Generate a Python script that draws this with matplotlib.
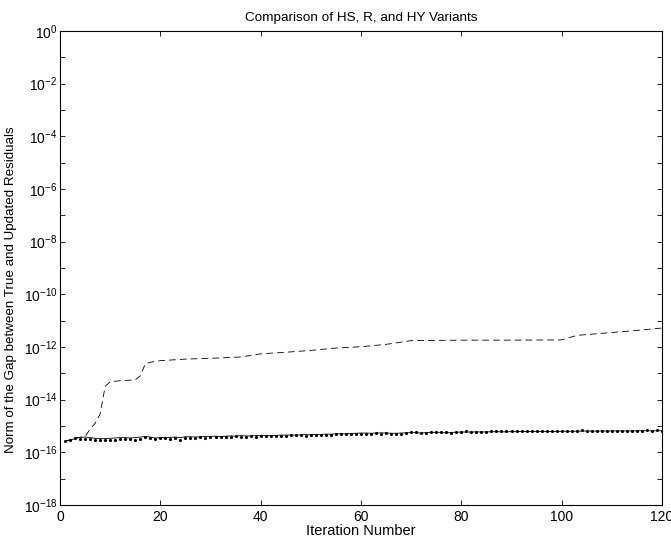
import numpy as np
import matplotlib
matplotlib.use('Agg')
import matplotlib.pyplot as plt

plt.rcParams['font.family'] = ['Liberation Sans', 'DejaVu Sans']
plt.rcParams['mathtext.fontset'] = 'custom'
plt.rcParams['mathtext.rm'] = 'Liberation Sans'
plt.rcParams['mathtext.it'] = 'Liberation Sans:italic'

# iteration numbers
iters = np.arange(1, 121)

# solid line, values in units of 1e-16
solidGap = [2.6, 2.9, 3.3, 3.7, 3.8, 3.6, 3.4, 3.3, 3.3, 3.4,
            3.5, 3.6, 3.6, 3.5, 3.6, 3.8, 4.0, 3.8, 3.5, 3.6,
            3.7, 3.7, 3.8, 3.6, 3.9, 3.9, 3.8, 3.9, 4.0, 4.0,
            4.1, 4.0, 4.1, 4.2, 4.1, 4.3, 4.2, 4.2, 4.3, 4.4,
            4.4, 4.3, 4.4, 4.5, 4.5, 4.6, 4.5, 4.6, 4.7, 4.6,
            4.8, 4.8, 4.9, 4.9, 5.0, 5.1, 5.0, 5.2, 5.3, 5.4,
            5.4, 5.3, 5.4, 5.5, 5.4, 5.3, 5.3, 5.4, 5.5, 5.6,
            5.5, 5.4, 5.6, 5.7, 5.8, 5.7, 5.4, 5.7, 5.8, 5.9,
            5.9, 5.9, 6.0, 5.9, 6.0, 6.0, 6.1, 6.0, 6.0, 6.1,
            6.1, 6.2, 6.2, 6.1, 6.2, 6.2, 6.1, 6.2, 6.2, 6.3,
            6.3, 6.3, 6.3, 6.4, 6.4, 6.4, 6.4, 6.5, 6.4, 6.5,
            6.5, 6.5, 6.5, 6.5, 6.6, 6.6, 6.6, 6.6, 6.6, 6.6]

# dotted line, values in units of 1e-16
dottedGap = [2.6, 3.0, 3.4, 3.2, 3.1, 3.3, 2.9, 2.9, 2.9, 3.0,
             2.9, 3.1, 3.1, 3.1, 3.0, 3.3, 3.7, 3.5, 3.1, 3.5,
             3.4, 3.3, 3.5, 3.0, 3.6, 3.5, 3.6, 3.7, 3.6, 3.7,
             3.8, 3.7, 3.9, 3.8, 4.0, 3.8, 3.9, 4.0, 3.9, 4.1,
             4.2, 4.0, 4.2, 4.3, 4.3, 4.4, 4.4, 4.5, 4.1, 4.6,
             4.5, 4.6, 4.7, 4.6, 4.8, 4.9, 4.8, 5.0, 5.0, 5.1,
             5.0, 5.1, 5.2, 5.1, 5.2, 4.9, 5.0, 5.0, 5.2, 5.9,
             5.7, 5.3, 5.6, 6.0, 6.0, 5.9, 6.1, 5.6, 5.9, 6.0,
             6.2, 6.0, 6.1, 5.8, 6.0, 6.2, 6.4, 6.2, 6.2, 6.3,
             6.4, 6.3, 6.5, 6.4, 6.6, 6.2, 6.5, 6.4, 6.4, 6.5,
             6.4, 6.5, 6.5, 6.8, 6.6, 6.6, 6.7, 6.5, 6.6, 6.6,
             6.7, 6.6, 6.7, 6.6, 6.7, 6.7, 6.8, 6.7, 6.8, 6.6]

# dashed line breakpoints (iteration, log10 of gap)
dashedIters = [1, 2, 3, 4, 5, 6, 7, 8, 9, 10, 12, 15, 16, 17, 18, 20, 25, 30, 36,
               40, 45, 50, 55, 60, 65, 70, 80, 90, 100, 103, 110, 115, 120]
dashedLog = [-15.58, -15.52, -15.45, -15.43, -15.40, -15.12, -14.90, -14.55, -13.50, -13.32,
             -13.28, -13.25, -13.10, -12.64, -12.58, -12.52, -12.46, -12.43, -12.38,
             -12.26, -12.20, -12.13, -12.04, -11.99, -11.90, -11.76, -11.74, -11.74, -11.73,
             -11.56, -11.45, -11.37, -11.28]

fig = plt.figure(figsize=(6.71, 5.42), dpi=100)
ax = fig.add_axes([0.0894, 0.0683, 0.8972, 0.8745])

ax.semilogy(iters, np.array(solidGap) * 1e-16, color='black', linewidth=0.6)
ax.semilogy(dashedIters, 10.0 ** np.array(dashedLog), color='black', linewidth=0.6,
            linestyle=(0, (8, 5)))
ax.semilogy(iters, np.array(dottedGap) * 1e-16, color='black', linestyle='none',
            marker='.', markersize=2.5)

ax.set_xlim(0, 120)
ax.set_ylim(1e-18, 1e0)
ax.set_xticks(np.arange(0, 121, 20))
exps = np.arange(-18, 1)
ax.set_yticks(10.0 ** exps)
ax.set_yticklabels(['$10^{%d}$' % e if e % 2 == 0 else '' for e in exps])
ax.minorticks_off()
ax.tick_params(direction='in', length=3.6, width=0.6, top=True, right=True, labelsize=10)
ax.tick_params(axis='y', pad=2)

for s in ax.spines.values():
    s.set_linewidth(0.8)

ax.set_title('Comparison of HS, R, and HY Variants', fontsize=9.7, pad=7)
ax.set_xlabel('Iteration Number', fontsize=10.5, labelpad=0)
ax.set_ylabel('Norm of the Gap between True and Updated Residuals', fontsize=9.6)
ax.yaxis.set_label_coords(-0.0714, 0.455)

fig.savefig('out.png', dpi=100)
